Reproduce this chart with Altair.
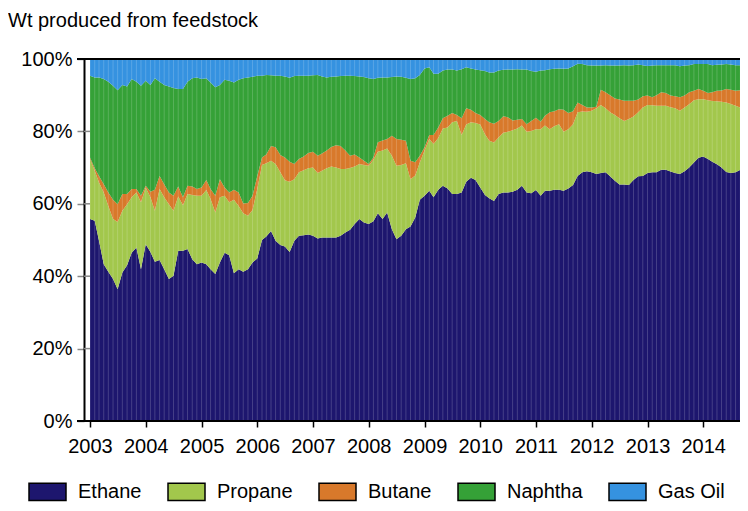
import altair as alt
import pandas as pd

# Monthly observations, Jan 2003 .. Oct 2014
MONTHS = pd.date_range("2003-01-01", periods=142, freq="MS")

SERIES = ["Ethane", "Propane", "Butane", "Naphtha", "Gas Oil"]
COLORS = ["#1d166e", "#a2c74c", "#d8792b", "#35a137", "#3592e0"]

# Upper edge (cumulative % of weight) of each band
ETHANE_TOP = [
    55.8, 55.3, 49.8, 43.3, 41.2, 39.2, 36.4, 41.0, 43.0, 46.5, 47.9, 41.9,
    48.8, 46.7, 44.0, 44.5, 41.9, 39.2, 40.1, 47.0, 47.0, 47.5, 44.7, 43.3,
    43.8, 43.3, 41.9, 40.6, 43.8, 46.5, 45.8, 40.8, 41.9, 41.2, 41.9, 43.8,
    44.9, 50.0, 51.0, 52.5, 49.8, 48.6, 48.2, 46.7, 49.8, 51.2, 51.3, 51.5,
    51.2, 50.4, 50.7, 50.7, 50.7, 50.7, 51.2, 52.1, 52.8, 54.4, 55.8, 54.8,
    54.4, 55.2, 57.4, 55.8, 57.6, 53.0, 50.2, 51.2, 53.0, 53.7, 56.2, 61.1,
    62.2, 63.6, 61.8, 63.9, 65.0, 64.2, 62.7, 62.7, 63.1, 66.1, 67.2, 66.6,
    64.5, 62.4, 61.5, 60.8, 62.7, 63.1, 63.1, 63.3, 63.9, 65.0, 63.1, 62.9,
    63.8, 62.2, 63.6, 63.6, 63.9, 63.9, 63.6, 64.2, 65.2, 67.7, 68.7, 69.0,
    68.7, 68.2, 68.5, 68.7, 67.6, 66.4, 65.3, 65.3, 65.2, 66.6, 67.6, 67.7,
    68.5, 68.7, 68.7, 69.4, 69.4, 68.9, 68.5, 68.2, 69.0, 70.0, 71.4, 72.7,
    73.1, 72.4, 71.6, 70.9, 70.0, 68.8, 68.5, 68.7, 69.4, 69.6,
]
PROPANE_TOP = [
    72.4, 69.1, 65.9, 63.1, 59.4, 55.8, 55.0, 58.1, 59.9, 61.8, 63.1, 60.4,
    64.5, 61.8, 58.1, 64.1, 61.8, 59.9, 58.1, 62.0, 59.6, 62.7, 62.4, 62.2,
    62.2, 63.8, 61.3, 57.6, 61.8, 62.2, 60.4, 61.1, 59.4, 57.4, 56.7, 58.3,
    64.1, 70.7, 71.2, 71.9, 71.0, 68.7, 66.5, 66.1, 66.8, 68.7, 69.3, 69.8,
    70.0, 68.5, 69.1, 69.8, 70.3, 70.0, 69.6, 69.6, 69.9, 70.3, 71.0, 70.7,
    70.5, 72.2, 74.4, 74.7, 75.3, 73.3, 70.5, 70.7, 71.2, 66.8, 67.8, 71.4,
    74.7, 77.9, 76.5, 78.2, 80.8, 81.1, 82.5, 82.9, 79.0, 81.9, 82.5, 82.3,
    81.9, 79.2, 77.4, 76.9, 78.3, 79.6, 79.9, 80.3, 80.8, 81.6, 79.9, 80.1,
    80.6, 80.6, 81.6, 80.6, 81.4, 82.0, 79.9, 80.6, 82.0, 85.3, 85.5, 85.4,
    85.7, 86.4, 87.3, 86.4, 85.3, 84.5, 83.6, 82.9, 83.4, 84.1, 85.3, 86.6,
    87.3, 87.2, 87.1, 87.1, 87.1, 86.7, 86.4, 85.7, 86.6, 87.5, 88.6, 88.9,
    88.9, 88.6, 88.4, 88.3, 88.2, 88.0, 87.6, 87.1, 86.6, 86.6,
]
BUTANE_TOP = [
    72.8, 69.8, 67.7, 65.4, 63.1, 61.1, 59.9, 62.7, 62.7, 64.1, 64.1, 62.2,
    65.0, 63.3, 63.9, 67.7, 65.4, 63.1, 62.2, 64.8, 61.8, 65.0, 64.8, 64.1,
    64.5, 66.6, 64.1, 62.2, 66.8, 64.5, 63.1, 63.9, 63.1, 60.1, 60.2, 62.2,
    67.7, 72.8, 73.6, 76.0, 75.6, 73.5, 72.8, 71.6, 71.0, 72.4, 73.1, 74.0,
    74.4, 73.3, 73.9, 74.7, 75.7, 76.2, 76.0, 74.7, 73.3, 73.6, 72.8, 71.9,
    71.0, 72.8, 77.0, 77.5, 77.9, 78.8, 77.9, 77.7, 77.4, 71.9, 71.5, 73.3,
    75.6, 79.0, 79.0, 81.1, 83.6, 84.3, 85.1, 84.5, 83.6, 86.4, 86.0, 85.1,
    84.5, 83.4, 82.5, 82.1, 82.9, 84.2, 83.9, 83.0, 83.2, 83.4, 82.0, 82.9,
    83.8, 82.7, 84.3, 85.3, 85.6, 86.1, 86.0, 85.1, 85.6, 88.0, 87.3, 86.6,
    86.6, 86.8, 91.5, 90.8, 90.0, 89.1, 88.8, 88.5, 88.5, 88.5, 88.8, 89.7,
    89.9, 89.4, 90.0, 90.8, 90.6, 89.9, 89.7, 89.4, 89.9, 90.8, 91.2, 91.7,
    91.2, 90.6, 90.8, 91.2, 91.3, 91.7, 91.5, 91.2, 91.4, 91.7,
]
NAPHTHA_TOP = [
    95.4, 94.9, 94.9, 94.5, 93.7, 92.6, 91.4, 92.8, 92.4, 94.5, 93.7, 92.6,
    94.0, 92.8, 94.7, 93.7, 92.8, 92.4, 92.0, 91.7, 91.7, 93.7, 94.7, 94.9,
    94.5, 94.7, 93.5, 92.2, 92.8, 94.3, 94.0, 93.5, 94.3, 94.7, 94.9, 95.1,
    95.4, 95.4, 95.6, 95.5, 95.4, 95.4, 95.2, 94.8, 95.3, 95.4, 95.4, 95.4,
    95.5, 95.6, 95.2, 94.9, 95.1, 95.2, 95.3, 95.4, 95.4, 95.3, 95.2, 95.0,
    94.7, 94.5, 94.8, 94.9, 94.9, 95.0, 95.2, 95.1, 94.8, 94.5, 94.7, 95.6,
    97.4, 97.7, 95.9, 95.9, 96.8, 97.1, 97.1, 96.8, 97.2, 97.7, 97.4, 97.1,
    96.9, 96.7, 96.3, 96.3, 96.8, 97.0, 97.1, 97.1, 97.2, 97.1, 97.1, 96.7,
    96.5, 96.8, 96.9, 97.2, 97.3, 97.4, 97.3, 97.4, 98.0, 98.7, 98.6, 98.3,
    98.2, 98.2, 98.2, 98.3, 98.2, 98.2, 98.2, 98.3, 98.2, 98.3, 98.5, 98.3,
    98.1, 98.2, 98.3, 98.3, 98.3, 98.3, 98.3, 98.0, 98.2, 98.3, 98.6, 98.6,
    98.6, 98.6, 98.3, 98.4, 98.5, 98.6, 98.5, 98.3, 98.3, 98.3,
]
Y_TICKS = [0, 20, 40, 60, 80, 100]
YEARS = list(range(2003, 2015))

n = len(MONTHS)
edges = [[0.0] * n, ETHANE_TOP, PROPANE_TOP, BUTANE_TOP, NAPHTHA_TOP, [100.0] * n]
rows = []
for i, s in enumerate(SERIES):
    for j, d in enumerate(MONTHS):
        rows.append({"date": d, "series": s, "lo": edges[i][j], "hi": edges[i + 1][j]})
df = pd.DataFrame(rows)

W, H = 650, 362
FONT = "Liberation Sans"

x_scale = alt.Scale(domain=[alt.DateTime(year=2003, month=1, date=1),
                            alt.DateTime(year=2014, month=8, date=30)])
y_scale = alt.Scale(domain=[0, 100], nice=False)

areas = alt.Chart(df).mark_area(interpolate="linear", clip=True).encode(
    x=alt.X("date:T", scale=x_scale, title=None,
            axis=alt.Axis(values=[alt.DateTime(year=y, month=1, date=1) for y in YEARS],
                          format="%Y", labelFlush=False, labelOverlap=False,
                          domain=False, ticks=True, tickColor="black", tickWidth=1.5,
                          tickSize=6, labelPadding=9, labelFontSize=20, labelFont=FONT,
                          labelColor="black", grid=False)),
    y=alt.Y("lo:Q", scale=y_scale, stack=None, title=None,
            axis=alt.Axis(values=Y_TICKS, labelExpr="datum.value + '%'", offset=6,
                          tickSize=7, tickColor="#888888", tickWidth=1.5,
                          domainColor="black", domainWidth=2,
                          labelPadding=5, labelFontSize=20, labelFont=FONT,
                          labelColor="black", grid=False)),
    y2="hi:Q",
    color=alt.Color("series:N", scale=alt.Scale(domain=SERIES, range=COLORS),
                    sort=SERIES,
                    legend=alt.Legend(title=None, orient="none", direction="horizontal",
                                      legendX=-62, legendY=413, padding=0,
                                      symbolType="M-1,-0.47H1V0.47H-1Z", symbolSize=1369,
                                      symbolStrokeColor="black", symbolStrokeWidth=1.5,
                                      symbolOpacity=1,
                                      labelFontSize=20, labelFont=FONT, labelColor="black",
                                      labelOffset=11, columnPadding=23)),
    order=alt.Order("series:N"),
)

month_df = pd.DataFrame({"date": MONTHS})
seams = alt.Chart(month_df).mark_rule(color="white", opacity=0.18, strokeWidth=1,
                                      clip=True).encode(
    x=alt.X("date:T", scale=x_scale),
    y=alt.value(0),
    y2=alt.value(H),
)

grid_df = pd.DataFrame({"v": Y_TICKS[1:-1]})
gap_grid = alt.Chart(grid_df).mark_rule(color="#888888", strokeWidth=1.5).encode(
    y=alt.Y("v:Q", scale=y_scale),
    x=alt.value(-6),
    x2=alt.value(0),
)

frame_df = pd.DataFrame({"v": [0, 100]})
frame = alt.Chart(frame_df).mark_rule(color="black", strokeWidth=2).encode(
    y=alt.Y("v:Q", scale=y_scale),
    x=alt.value(-13),
    x2=alt.value(W),
)

chart = alt.layer(areas, seams, gap_grid, frame).properties(
    width=W, height=H,
    title=alt.TitleParams("Wt produced from feedstock", anchor="start", frame="group",
                          dx=-82, offset=18, fontSize=20, font=FONT,
                          fontWeight="normal", color="black"),
    autosize=alt.AutoSizeParams(type="none"),
    padding={"left": 82, "top": 51, "right": 0, "bottom": 82},
).configure_view(stroke=None).configure(background="white")

chart.save("out.html", embed_options={"renderer": "svg", "actions": False})
